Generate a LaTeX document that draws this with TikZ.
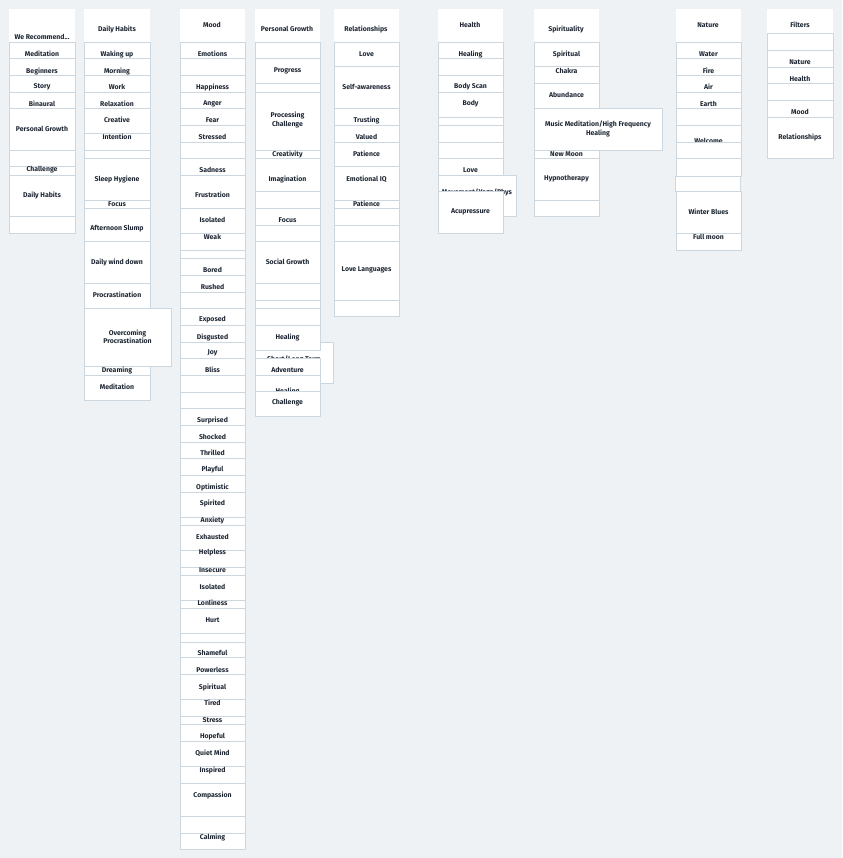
\documentclass[tikz,border=0pt]{standalone}
\usepackage{fontspec}
\setmainfont{Fira Sans}
\definecolor{pagebg}{HTML}{EEF2F5}
\definecolor{cellline}{HTML}{CDD7E0}
\definecolor{celltext}{HTML}{1E2733}
\newcounter{cellno}
\tikzset{
  cellbox/.style={fill=white, draw=cellline, line width=0.6pt},
  headbox/.style={fill=white, draw=none},
  celllabel/.style={font=\fontsize{6.9}{8.5}\selectfont\bfseries, text=celltext, align=center, inner sep=0pt}
}
% \cell{x1}{x2}{top}{bottom}{label y}{text}
\newcommand\cell[6]{%
  \stepcounter{cellno}%
  \filldraw[cellbox] (#1,#3) rectangle (#2,#4);
  \node[celllabel] (cell\thecellno) at ({(#1+#2)/2},#5) {#6};}
\begin{document}
\begin{tikzpicture}[x=1pt, y=-1pt]
	\fill[pagebg] (0,0) rectangle (842,858);
	\useasboundingbox (0,0) rectangle (842,858);
	% We Recommend
	\fill[headbox] (9,9) rectangle (75,42);
	\node[celllabel] (recommend) at (42,37) {We Recommend...};
	\cell{9}{75}{42}{58}{54}{Meditation}
	\cell{9}{75}{58}{75}{71}{Beginners}
	\cell{9}{75}{75}{92}{87}{Story}
	\cell{9}{75}{92}{108}{104}{Binaural}
	\cell{9}{75}{108}{150}{129}{Personal Growth}
	\cell{9}{75}{150}{166}{158}{}
	\cell{9}{75}{166}{175}{170}{Challenge}
	\cell{9}{75}{175}{216}{195}{Daily Habits}
	\cell{9}{75}{216}{233}{225}{}
	% Daily Habits
	\fill[headbox] (84,9) rectangle (150,42);
	\node[celllabel] (dailyhabits) at (117,29) {Daily Habits};
	\cell{84}{150}{42}{58}{54}{Waking up}
	\cell{84}{150}{58}{75}{71}{Morning}
	\cell{84}{150}{75}{92}{87}{Work}
	\cell{84}{150}{92}{108}{104}{Relaxation}
	\cell{84}{150}{108}{133}{120}{Creative}
	\cell{84}{150}{133}{150}{137}{Intention}
	\cell{84}{150}{150}{158}{154}{}
	\cell{84}{150}{158}{200}{179}{Sleep Hygiene}
	\cell{84}{150}{200}{208}{204}{Focus}
	\cell{84}{150}{208}{241}{229}{Afternoon Slump}
	\cell{84}{150}{241}{283}{262}{Daily wind down}
	\cell{84}{150}{283}{308}{295}{Procrastination}
	\cell{84}{171}{308}{366}{337}{Overcoming\\Procrastination}
	\cell{84}{150}{366}{375}{370}{Dreaming}
	\cell{84}{150}{375}{400}{387}{Meditation}
	% Mood
	\fill[headbox] (180,9) rectangle (245,42);
	\node[celllabel] (mood) at (212,25) {Mood};
	\cell{180}{245}{42}{58}{54}{Emotions}
	\cell{180}{245}{58}{75}{66}{}
	\cell{180}{245}{75}{92}{87}{Happiness}
	\cell{180}{245}{92}{108}{104}{Anger}
	\cell{180}{245}{108}{125}{120}{Fear}
	\cell{180}{245}{125}{142}{137}{Stressed}
	\cell{180}{245}{142}{158}{150}{}
	\cell{180}{245}{158}{175}{170}{Sadness}
	\cell{180}{245}{175}{208}{195}{Frustration}
	\cell{180}{245}{208}{233}{220}{Isolated}
	\cell{180}{245}{233}{250}{237}{Weak}
	\cell{180}{245}{250}{258}{254}{}
	\cell{180}{245}{258}{275}{270}{Bored}
	\cell{180}{245}{275}{292}{287}{Rushed}
	\cell{180}{245}{292}{308}{300}{}
	\cell{180}{245}{308}{325}{320}{Exposed}
	\cell{180}{245}{325}{342}{337}{Disgusted}
	\cell{180}{245}{342}{358}{353}{Joy}
	\cell{180}{245}{358}{375}{370}{Bliss}
	\cell{180}{245}{375}{392}{383}{}
	\cell{180}{245}{392}{408}{400}{}
	\cell{180}{245}{408}{425}{420}{Surprised}
	\cell{180}{245}{425}{442}{437}{Shocked}
	\cell{180}{245}{442}{458}{453}{Thrilled}
	\cell{180}{245}{458}{475}{470}{Playful}
	\cell{180}{245}{475}{492}{487}{Optimistic}
	\cell{180}{245}{492}{517}{503}{Spirited}
	\cell{180}{245}{517}{525}{520}{Anxiety}
	\cell{180}{245}{525}{550}{537}{Exhausted}
	\cell{180}{245}{550}{567}{553}{Helpless}
	\cell{180}{245}{567}{575}{570}{Insecure}
	\cell{180}{245}{575}{600}{587}{Isolated}
	\cell{180}{245}{600}{608}{603}{Lonliness}
	\cell{180}{245}{608}{633}{620}{Hurt}
	\cell{180}{245}{633}{642}{637}{}
	\cell{180}{245}{642}{657}{653}{Shameful}
	\cell{180}{245}{657}{674}{670}{Powerless}
	\cell{180}{245}{674}{699}{687}{Spiritual}
	\cell{180}{245}{699}{716}{703}{Tired}
	\cell{180}{245}{716}{724}{720}{Stress}
	\cell{180}{245}{724}{741}{737}{Hopeful}
	\cell{180}{245}{741}{766}{753}{Quiet Mind}
	\cell{180}{245}{766}{783}{770}{Inspired}
	\cell{180}{245}{783}{816}{795}{Compassion}
	\cell{180}{245}{816}{833}{825}{}
	\cell{180}{245}{833}{849}{837}{Calming}
	% Personal Growth
	\fill[headbox] (255,9) rectangle (320,42);
	\node[celllabel] (personalgrowth) at (287,29) {Personal Growth};
	\cell{255}{320}{42}{58}{50}{}
	\cell{255}{320}{58}{83}{71}{Progress}
	\cell{255}{320}{83}{92}{88}{}
	\cell{255}{320}{92}{150}{120}{Processing\\Challenge}
	\cell{255}{320}{150}{158}{154}{Creativity}
	\cell{255}{320}{158}{191}{179}{Imagination}
	\cell{255}{320}{191}{208}{200}{}
	\cell{255}{320}{208}{225}{220}{Focus}
	\cell{255}{320}{225}{241}{233}{}
	\cell{255}{320}{241}{283}{262}{Social Growth}
	\cell{255}{320}{283}{300}{291}{}
	\cell{255}{320}{300}{308}{304}{}
	\cell{255}{320}{308}{325}{316}{}
	\cell{255}{333}{342}{383}{359}{Short/Long Term}
	\cell{255}{320}{325}{350}{337}{Healing}
	\cell{255}{320}{358}{375}{370}{Adventure}
	\cell{255}{320}{375}{391}{391}{Healing}
	\cell{255}{320}{391}{416}{403}{Challenge}
	% Relationships
	\fill[headbox] (334,9) rectangle (399,42);
	\node[celllabel] (relationships) at (366,29) {Relationships};
	\cell{334}{399}{42}{66}{54}{Love}
	\cell{334}{399}{66}{108}{87}{Self-awareness}
	\cell{334}{399}{108}{125}{120}{Trusting}
	\cell{334}{399}{125}{142}{137}{Valued}
	\cell{334}{399}{142}{166}{154}{Patience}
	\cell{334}{399}{166}{200}{179}{Emotional IQ}
	\cell{334}{399}{200}{208}{204}{Patience}
	\cell{334}{399}{208}{225}{216}{}
	\cell{334}{399}{225}{241}{233}{}
	\cell{334}{399}{241}{300}{270}{Love Languages}
	\cell{334}{399}{300}{316}{308}{}
	% Health
	\fill[headbox] (438,9) rectangle (503,42);
	\node[celllabel] (health) at (470,25) {Health};
	\cell{438}{503}{42}{58}{54}{Healing}
	\cell{438}{503}{58}{75}{66}{}
	\cell{438}{503}{75}{92}{87}{Body Scan}
	\cell{438}{503}{92}{117}{104}{Body}
	\cell{438}{503}{117}{125}{121}{}
	\cell{438}{503}{125}{142}{133}{}
	\cell{438}{503}{142}{158}{150}{}
	\cell{438}{503}{158}{175}{170}{Love}
	\cell{438}{516}{175}{216}{192}{Movement/Yoga/Phys}
	\cell{438}{503}{191}{233}{212}{Acupressure}
	% Spirituality
	\fill[headbox] (534,9) rectangle (599,42);
	\node[celllabel] (spirituality) at (566,29) {Spirituality};
	\cell{534}{599}{42}{66}{54}{Spiritual}
	\cell{534}{599}{66}{83}{71}{Chakra}
	\cell{534}{599}{83}{125}{95}{Abundance}
	\cell{534}{599}{125}{158}{154}{New Moon}
	\cell{534}{599}{158}{200}{179}{Hypnotherapy}
	\cell{534}{599}{200}{216}{208}{}
	\cell{534}{662}{108}{150}{129}{Music Meditation/High Frequency\\Healing}
	% Nature
	\fill[headbox] (676,9) rectangle (741,42);
	\node[celllabel] (nature) at (708,25) {Nature};
	\cell{676}{741}{42}{58}{54}{Water}
	\cell{676}{741}{58}{75}{71}{Fire}
	\cell{676}{741}{75}{92}{87}{Air}
	\cell{676}{741}{92}{108}{104}{Earth}
	\cell{676}{741}{108}{125}{116}{}
	\cell{676}{741}{125}{142}{141}{Welcome}
	\cell{676}{741}{142}{158}{150}{}
	\cell{676}{741}{158}{176}{167}{}
	\cell{675}{740}{176}{191}{183}{}
	\cell{676}{741}{191}{233}{212}{Winter Blues}
	\cell{676}{741}{233}{250}{237}{Full moon}
	% Filters
	\fill[headbox] (767,9) rectangle (833,33);
	\node[celllabel] (filters) at (800,25) {Filters};
	\cell{767}{833}{33}{50}{41}{}
	\cell{767}{833}{50}{67}{62}{Nature}
	\cell{767}{833}{67}{83}{79}{Health}
	\cell{767}{833}{83}{100}{91}{}
	\cell{767}{833}{100}{117}{112}{Mood}
	\cell{767}{833}{117}{158}{137}{Relationships}
\end{tikzpicture}
\end{document}
